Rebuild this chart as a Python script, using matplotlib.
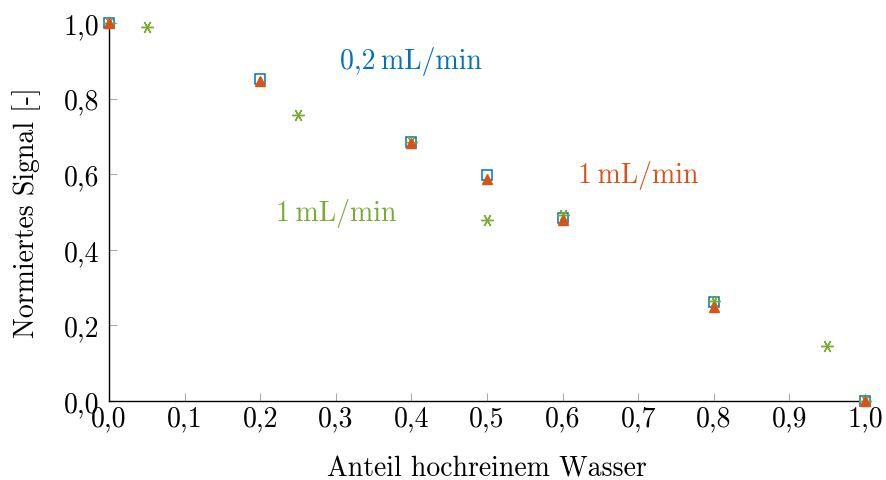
import matplotlib
matplotlib.use("Agg")
import matplotlib.pyplot as plt

plt.rcParams['font.family'] = ['cmr10', 'DejaVu Serif']
plt.rcParams['mathtext.fontset'] = 'cm'
plt.rcParams['axes.unicode_minus'] = False

# 0,2 mL/min (blue squares)
x_blue = [0.0, 0.2, 0.4, 0.5, 0.6, 0.8, 1.0]
y_blue = [1.0, 0.852, 0.686, 0.598, 0.484, 0.262, 0.0]

# 1 mL/min (orange triangles)
x_orange = [0.0, 0.2, 0.4, 0.5, 0.6, 0.8, 1.0]
y_orange = [1.0, 0.848, 0.683, 0.587, 0.480, 0.249, 0.0]

# 1 mL/min (green asterisks)
x_green = [0.0, 0.05, 0.25, 0.4, 0.5, 0.6, 0.8, 0.95, 1.0]
y_green = [1.0, 0.989, 0.757, 0.685, 0.479, 0.492, 0.265, 0.146, 0.0]

xticks = [0.0, 0.1, 0.2, 0.3, 0.4, 0.5, 0.6, 0.7, 0.8, 0.9, 1.0]
yticks = [0.0, 0.2, 0.4, 0.6, 0.8, 1.0]

blue = '#0072BD'
orange = '#D95319'
green = '#77AC30'

fs = 20

fig = plt.figure(figsize=(8.87, 4.81), dpi=100)
ax = fig.add_axes([0.1229, 0.1642, 0.8523, 0.7858])

ax.plot(x_blue, y_blue, ls='none', marker='s', ms=7.5, mfc='white',
        mec=blue, mew=1.1, clip_on=False, zorder=3)
ax.plot(x_green, y_green, ls='none', marker=(6, 2, 90), ms=9,
        mec=green, mew=1.0, clip_on=False, zorder=4)
ax.plot(x_orange, y_orange, ls='none', marker='^', ms=6.5, mfc=orange,
        mec=orange, clip_on=False, zorder=5)

ax.text(0.4, 0.90, '0,2\u2009mL/min', color=blue, fontsize=fs,
        ha='center', va='center')
ax.text(0.70, 0.60, '1\u2009mL/min', color=orange, fontsize=fs,
        ha='center', va='center')
ax.text(0.30, 0.50, '1\u2009mL/min', color=green, fontsize=fs,
        ha='center', va='center')

ax.set_xlim(0, 1)
ax.set_ylim(0, 1)
ax.set_xticks(xticks)
ax.set_xticklabels([f'{t:.1f}'.replace('.', ',') for t in xticks])
ax.set_yticks(yticks)
ax.set_yticklabels([f'{t:.1f}'.replace('.', ',') for t in yticks])

for s in ['top', 'right']:
    ax.spines[s].set_visible(False)
for s in ['left', 'bottom']:
    ax.spines[s].set_linewidth(1.0)
    ax.spines[s].set_color('black')

ax.tick_params(direction='in', length=6, width=0.8, color='#aaaaaa',
               labelsize=fs)
ax.tick_params(axis='x', pad=3)
ax.tick_params(axis='y', pad=7)

ax.set_xlabel('Anteil hochreinem Wasser', fontsize=fs, labelpad=17)
ax.set_ylabel('Normiertes Signal [-]', fontsize=fs, labelpad=16)

fig.savefig('out.png', dpi=100)
